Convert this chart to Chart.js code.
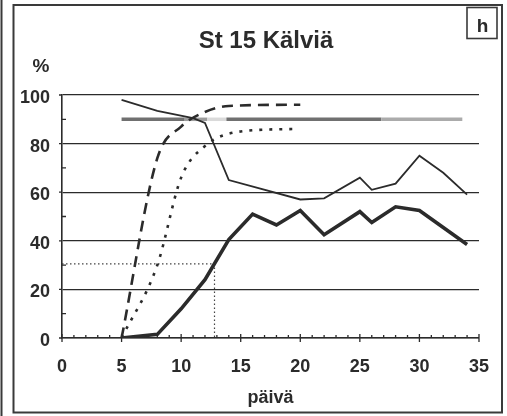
<!DOCTYPE html>
<html>
<head>
<meta charset="utf-8">
<script src="https://cdn.jsdelivr.net/npm/chart.js@4/dist/chart.umd.min.js"></script>
<style>
    html, body { margin: 0; padding: 0; background: #fff; }
    #wrap { position: relative; width: 507px; height: 416px; }
</style>
</head>
<body>
<div id="wrap"><canvas id="chart" width="507" height="416"></canvas></div>
<script>
// values
const xTicks = [0, 5, 10, 15, 20, 25, 30, 35];
const yTicks = [0, 20, 40, 60, 80, 100];

const thinDays = [5, 8, 11, 12, 14, 20, 22, 25, 26, 28, 30, 32, 34];
const thinPct = [98, 93.5, 90.5, 88.5, 65, 57, 57.5, 66, 61, 63.5, 75, 68, 59];

const thickDays = [5, 8, 10, 12, 14, 16, 18, 20, 22, 25, 26, 28, 30, 34];
const thickPct = [0, 1.5, 12, 24, 40.5, 51, 46.5, 52.5, 42.5, 52, 47.5, 54, 52.5, 38.5];

const dashDays = [5, 8, 10, 12, 14, 20];
const dashPct = [0, 74, 87, 93, 95.5, 96];

const dotDays = [5, 8, 10, 12, 15, 19.5];
const dotPct = [0, 30, 66, 79, 85, 86];

const grayDays = [5, 10.3, 12.2, 13.8, 26.8, 33.6];
const grayPct = [90, 90, 90, 90, 90, 90];
const grayShades = ['#707070', '#9c9c9c', '#dadada', '#707070', '#ababab'];

const refDays = [0, 12.8, 12.8];
const refPct = [30.5, 30.5, 0];

const ink = '#2b2b2b';
const fontFamily = "'Liberation Sans', Arial, sans-serif";

function pts(xs, ys) {
    return xs.map((x, i) => ({ x: x, y: ys[i] }));
}

// frame, title, % label, "h" box and the small axis ticks
const decor = {
    id: 'decor',
    afterDraw(chart) {
        const ctx = chart.ctx;
        const xs = chart.scales.x;
        const ys = chart.scales.y;
        const area = chart.chartArea;
        ctx.save();
        ctx.strokeStyle = '#3a3a3a';
        ctx.lineWidth = 2;
        ctx.strokeRect(13.5, 5, 488.5, 407.5);
        ctx.beginPath();
        ctx.moveTo(1.5, 0);
        ctx.lineTo(1.5, 416);
        ctx.stroke();

        ctx.lineWidth = 1.6;
        ctx.strokeRect(467, 7.5, 30, 31);

        ctx.fillStyle = ink;
        ctx.textAlign = 'center';
        ctx.textBaseline = 'alphabetic';
        ctx.font = `bold 24px ${fontFamily}`;
        ctx.fillText('St 15 Kälviä', 266, 48);
        ctx.font = `bold 19px ${fontFamily}`;
        ctx.fillText('%', 41, 72);
        ctx.fillText('h', 482.5, 32);

        ctx.strokeStyle = ink;
        ctx.lineWidth = 1.3;
        ctx.beginPath();
        for (let v = 0; v <= 35; v++) {
            const px = xs.getPixelForValue(v);
            if (v % 5 === 0) {
                ctx.moveTo(px, area.bottom + 4);
                ctx.lineTo(px, area.bottom - 4);
            } else {
                ctx.moveTo(px, area.bottom);
                ctx.lineTo(px, area.bottom - 3);
            }
        }
        for (let v = 0; v <= 100; v += 10) {
            const py = ys.getPixelForValue(v);
            if (v % 20 === 0) {
                ctx.moveTo(area.left - 3, py);
                ctx.lineTo(area.left, py);
            } else {
                ctx.moveTo(area.left, py);
                ctx.lineTo(area.left + 4, py);
            }
        }
        ctx.stroke();
        ctx.restore();
    }
};

new Chart(document.getElementById('chart'), {
    type: 'line',
    data: {
        datasets: [
            {
                data: pts(thickDays, thickPct),
                borderColor: ink,
                borderWidth: 3.6,
                tension: 0,
                borderJoinStyle: 'miter'
            },
            {
                data: pts(thinDays, thinPct),
                borderColor: ink,
                borderWidth: 1.8,
                tension: 0
            },
            {
                data: pts(dashDays, dashPct),
                borderColor: ink,
                borderWidth: 2.6,
                borderDash: [11, 7],
                cubicInterpolationMode: 'monotone'
            },
            {
                data: pts(dotDays, dotPct),
                borderColor: ink,
                borderWidth: 2.6,
                borderDash: [3, 7],
                cubicInterpolationMode: 'monotone'
            },
            {
                data: pts(refDays, refPct),
                borderColor: '#444',
                borderWidth: 1.2,
                borderDash: [1.5, 2.5],
                tension: 0
            },
            {
                data: pts(grayDays, grayPct),
                borderWidth: 3.5,
                tension: 0,
                segment: {
                    borderColor: c => grayShades[c.p0DataIndex]
                }
            }
        ]
    },
    options: {
        responsive: false,
        animation: false,
        layout: { padding: { left: 0, right: 27, top: 95, bottom: 0 } },
        elements: { point: { radius: 0 } },
        plugins: {
            legend: { display: false },
            tooltip: { enabled: false }
        },
        scales: {
            x: {
                type: 'linear',
                min: 0,
                max: 35,
                afterFit: s => { s.height = 78; },
                afterBuildTicks: s => { s.ticks = xTicks.map(v => ({ value: v })); },
                grid: { display: false, drawTicks: false },
                border: { display: true, color: ink, width: 1.6 },
                ticks: {
                    color: ink,
                    padding: 18,
                    font: { family: fontFamily, size: 18, weight: 'bold' }
                },
                title: {
                    display: true,
                    text: 'päivä',
                    color: ink,
                    padding: { top: 0, bottom: 7 },
                    font: { family: fontFamily, size: 18, weight: 'bold' }
                }
            },
            y: {
                min: 0,
                max: 100,
                afterFit: s => { s.width = 62; },
                afterBuildTicks: s => { s.ticks = yTicks.map(v => ({ value: v })); },
                grid: { color: ink, lineWidth: 1.3, drawTicks: false },
                border: { display: true, color: ink, width: 1.6 },
                ticks: {
                    color: ink,
                    padding: 12,
                    labelOffset: 3,
                    font: { family: fontFamily, size: 18, weight: 'bold' }
                }
            }
        }
    },
    plugins: [decor]
});
</script>
</body>
</html>
